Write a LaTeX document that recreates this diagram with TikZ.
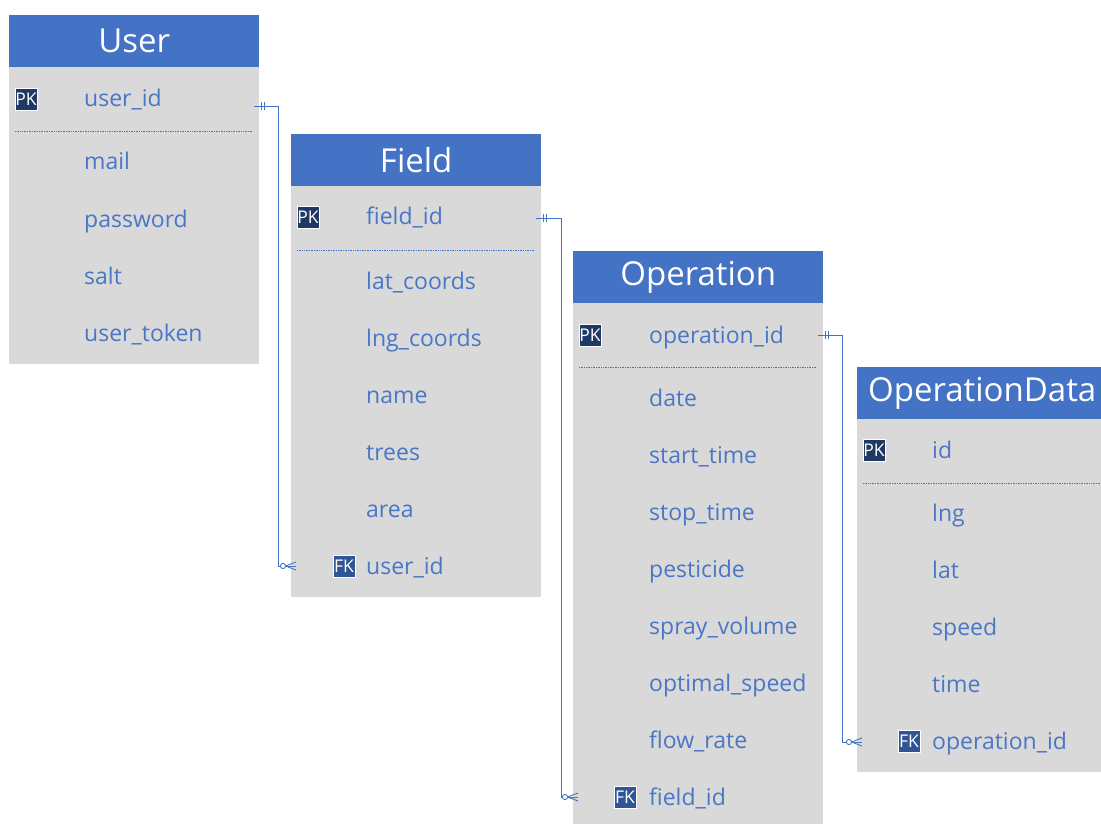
\documentclass[tikz,border=0pt]{standalone}
\usepackage{fontspec}
\setmainfont{Open Sans}
\usetikzlibrary{calc}
\definecolor{hdrblue}{HTML}{4472C4}
\definecolor{bodygray}{HTML}{D9D9D9}
\definecolor{txtblue}{HTML}{4A76C6}
\definecolor{pknavy}{HTML}{203864}
\definecolor{fkblue}{HTML}{2F5597}
\tikzset{
  hdr/.style={fill=hdrblue, text=white, font=\fontsize{33}{36}\selectfont, minimum width=250pt, minimum height=52pt, anchor=north west, inner sep=0pt},
  tbody/.style={fill=bodygray, minimum width=250pt, anchor=north west, inner sep=0pt},
  row/.style={text=txtblue, font=\fontsize{23}{26}\selectfont, anchor=base west, inner sep=0pt, yshift=-8pt},
  badge/.style={text=white, draw=white, line width=0.6pt, font=\fontsize{17.5}{18}\selectfont, minimum width=22pt, minimum height=22pt, inner sep=0pt},
  pk/.style={badge, fill=pknavy},
  fk/.style={badge, fill=fkblue},
  sep/.style={draw=hdrblue, densely dotted, line width=0.7pt},
  rel/.style={draw=hdrblue, line width=0.9pt},
}
\newcommand{\onebar}[1]{%
  \draw[rel] ($(#1)+(7,-4)$) -- ($(#1)+(7,4)$);
  \draw[rel] ($(#1)+(10,-4)$) -- ($(#1)+(10,4)$);}
\newcommand{\crowfoot}[1]{%
  \draw[rel, fill=white] ($(#1)+(-9,0)$) circle (2.6);
  \draw[rel] ($(#1)+(-6.4,0)$) -- ($(#1)+(4,-4)$);
  \draw[rel] ($(#1)+(-6.4,0)$) -- ($(#1)+(4,0)$);
  \draw[rel] ($(#1)+(-6.4,0)$) -- ($(#1)+(4,4)$);}
\begin{document}
\begin{tikzpicture}[x=1pt,y=-1pt]
\useasboundingbox (0,0) rectangle (1101,824);
\fill[white] (0,0) rectangle (1101,824);

% ---------- User ----------
\node[tbody, minimum height=297pt] (userbody) at (9,67) {};
\node[hdr] (user) at (9,15) {User};
\node[pk] (userpk) at (26,99) {PK};
\node[row] (user1) at (84,99) {user\_id};
\draw[sep] (15,131) -- (253,131);
\node[row] (user2) at (84,162) {mail};
\node[row] (user3) at (84,219) {password};
\node[row] (user4) at (84,276) {salt};
\node[row] (user5) at (84,333) {user\_token};

% ---------- Field ----------
\node[tbody, minimum height=411pt] (fieldbody) at (291,186) {};
\node[hdr] (field) at (291,134) {Field};
\node[pk] (fieldpk) at (308,217) {PK};
\node[row] (field1) at (366,217) {field\_id};
\draw[sep] (297,250) -- (535,250);
\node[row] (field2) at (366,281) {lat\_coords};
\node[row] (field3) at (366,338) {lng\_coords};
\node[row] (field4) at (366,395) {name};
\node[row] (field5) at (366,452) {trees};
\node[row] (field6) at (366,509) {area};
\node[fk] (fieldfk) at (344,566) {FK};
\node[row] (field7) at (366,566) {user\_id};

% ---------- Operation ----------
\node[tbody, minimum height=521pt] (opbody) at (573,303) {};
\node[hdr] (op) at (573,251) {Operation};
\node[pk] (oppk) at (590,335) {PK};
\node[row] (op1) at (649,335) {operation\_id};
\draw[sep] (579,367) -- (817,367);
\node[row] (op2) at (649,398) {date};
\node[row] (op3) at (649,455) {start\_time};
\node[row] (op4) at (649,512) {stop\_time};
\node[row] (op5) at (649,569) {pesticide};
\node[row] (op6) at (649,626) {spray\_volume};
\node[row] (op7) at (649,683) {optimal\_speed};
\node[row] (op8) at (649,740) {flow\_rate};
\node[fk] (opfk) at (625,797) {FK};
\node[row] (op9) at (649,797) {field\_id};

% ---------- OperationData ----------
\node[tbody, minimum height=353pt] (odbody) at (857,419) {};
\node[hdr] (od) at (857,367) {OperationData};
\node[pk] (odpk) at (874,450) {PK};
\node[row] (od1) at (932,450) {id};
\draw[sep] (863,483) -- (1101,483);
\node[row] (od2) at (932,513) {lng};
\node[row] (od3) at (932,570) {lat};
\node[row] (od4) at (932,627) {speed};
\node[row] (od5) at (932,684) {time};
\node[fk] (odfk) at (909,741) {FK};
\node[row] (od6) at (932,741) {operation\_id};

% ---------- Relationships ----------
\coordinate (r1a) at (254,106);
\coordinate (r1b) at (292,566);
\draw[rel] (r1a) -- (278,106) -- (278,566) -- (r1b);
\onebar{r1a}
\crowfoot{r1b}

\coordinate (r2a) at (536,218);
\coordinate (r2b) at (574,797);
\draw[rel] (r2a) -- (561,218) -- (561,797) -- (r2b);
\onebar{r2a}
\crowfoot{r2b}

\coordinate (r3a) at (818,335);
\coordinate (r3b) at (858,742);
\draw[rel] (r3a) -- (842,335) -- (842,742) -- (r3b);
\onebar{r3a}
\crowfoot{r3b}
\end{tikzpicture}
\end{document}
